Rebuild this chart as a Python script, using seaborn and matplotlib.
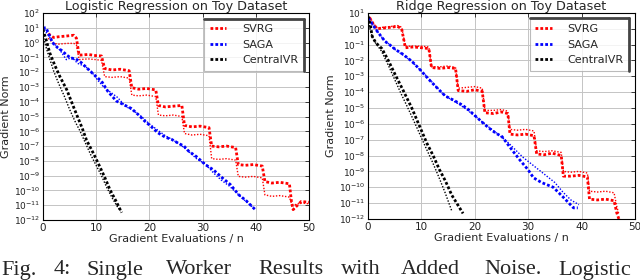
import numpy as np
import pandas as pd
import matplotlib
matplotlib.use("Agg")
import matplotlib.pyplot as plt
from matplotlib.lines import Line2D
import seaborn as sns

# ---------------- data (log10 of gradient norm) ----------------
# Logistic regression
lr_svrg_x = [1.0, 2.0, 3.0, 4.5, 5.8, 6.3, 6.8, 8.5, 10.0, 11.0, 11.6, 13.0, 14.5, 16.2, 16.7, 18.0, 19.5,
             21.2, 21.7, 23.0, 24.5, 26.1, 26.6, 28.0, 29.5, 31.2, 31.7, 33.0, 34.5, 36.2, 36.7, 38.0, 39.5,
             41.2, 41.7, 43.0, 44.5, 46.3, 46.7, 47.0, 48.5, 50.0]
lr_svrg_main = [0.6, 0.35, 0.40, 0.45, 0.50, 0.30, -0.85, -0.80, -0.88, -0.90, -1.75, -1.85, -1.80, -1.90,
                -3.05, -3.15, -3.10, -3.20, -4.25, -4.35, -4.30, -4.25, -5.60, -5.70, -5.65, -5.75, -7.00,
                -7.05, -7.00, -7.10, -8.25, -8.30, -8.25, -8.35, -9.40, -9.50, -9.45, -9.55, -10.80, -11.30,
                -10.75, -10.80]
lr_svrg_alt = [0.3, -0.05, -0.10, -0.05, -0.05, -0.15, -1.15, -1.10, -1.15, -1.20, -2.30, -2.35, -2.30, -2.40,
               -3.55, -3.60, -3.55, -3.65, -4.90, -4.95, -4.90, -5.00, -6.15, -6.25, -6.20, -6.30, -7.85,
               -7.90, -7.85, -7.95, -9.05, -9.10, -9.05, -9.15, -10.30, -10.40, -10.35, -10.45, -10.90, -11.00,
               -10.85, -10.90]
lr_saga_x = [0.0, 0.6, 1.2, 1.8, 2.8, 3.6, 4.5, 5.3, 6.2, 7.2, 8.5, 10.0, 11.0, 12.2, 13.8, 15.2, 16.6, 18.0,
             19.1, 20.4, 21.6, 23.0, 24.2, 25.4, 26.5, 27.4, 28.8, 30.5, 32.0, 33.7, 35.2, 36.8, 38.2, 39.6, 39.9]
lr_saga_main = [1.0, 1.0, 0.5, 0.0, -0.35, -0.55, -0.85, -1.05, -1.1, -1.35, -1.8, -2.3, -2.6, -3.3, -3.95,
                -4.2, -4.45, -4.9, -5.3, -5.7, -6.1, -6.4, -6.55, -6.8, -7.0, -7.35, -7.7, -8.25, -8.6, -9.15,
                -9.6, -10.3, -10.7, -11.2, -11.3]
lr_saga_alt_x = [0.3, 1.0, 1.8, 2.6, 3.2, 4.4, 5.5, 6.5, 7.9, 9.0, 10.2, 11.3, 12.5, 14.0, 15.5, 17.0, 18.5,
                 20.0, 21.5, 23.0, 24.5, 26.0, 27.5, 29.0, 30.5, 32.0, 33.5, 35.0, 36.5, 38.0, 39.3]
lr_saga_alt = [0.9, 0.5, 0.1, -0.3, -0.5, -1.15, -1.0, -1.4, -1.6, -1.9, -2.5, -2.95, -3.3, -3.7, -4.3, -4.6,
               -5.0, -5.5, -5.9, -6.3, -6.6, -6.95, -7.4, -7.9, -8.2, -8.8, -9.3, -9.7, -10.2, -10.7, -11.1]
lr_cvr_x = [0.0, 0.6, 1.3, 2.2, 3.2, 4.5, 5.7, 6.6, 7.4, 8.2, 9.5, 10.7, 11.6, 12.6, 13.7, 14.8]
lr_cvr_main = [0.9, 0.2, -0.7, -1.5, -2.3, -3.2, -4.3, -5.1, -5.8, -6.6, -7.5, -8.4, -9.1, -9.95, -10.7, -11.5]
lr_cvr_alt_x = [0.0, 0.5, 1.2, 2.0, 3.0, 4.0, 5.0, 6.0, 7.0, 8.0, 9.0, 10.0, 11.0, 12.0, 13.0, 14.0, 14.6]
lr_cvr_alt = [0.5, -0.2, -1.0, -1.9, -2.8, -3.6, -4.5, -5.3, -6.0, -6.8, -7.6, -8.3, -9.0, -9.8, -10.5, -11.1,
              -11.4]

# Ridge regression
rr_svrg_x = [0.3, 1.0, 1.7, 3.0, 4.5, 5.5, 6.3, 7.0, 8.5, 10.0, 11.4, 11.9, 13.5, 15.0, 16.4, 16.9, 18.5, 20.0,
             21.4, 21.9, 23.5, 25.0, 26.2, 26.6, 28.0, 29.5, 31.1, 31.6, 33.0, 34.5, 36.2, 36.6, 38.0, 39.5,
             41.1, 41.5, 43.0, 44.5, 46.1, 46.6, 47.0]
rr_svrg_main = [0.7, 0.3, 0.0, 0.05, 0.1, 0.15, 0.0, -1.2, -1.15, -1.2, -1.25, -2.45, -2.5, -2.45, -2.5, -3.9,
                -3.95, -3.85, -3.95, -5.3, -5.35, -5.25, -5.35, -6.65, -6.7, -6.65, -6.75, -7.9, -7.95, -7.85,
                -8.0, -9.3, -9.3, -9.25, -9.35, -10.75, -10.8, -10.75, -10.85, -11.6, -12.0]
rr_svrg_alt = [0.75, 0.35, 0.05, 0.1, 0.15, 0.2, 0.1, -1.1, -1.1, -1.1, -1.15, -2.4, -2.4, -2.35, -2.45, -3.75,
               -3.7, -3.65, -3.75, -5.15, -5.15, -5.1, -5.2, -6.35, -6.4, -6.35, -6.45, -7.7, -7.75, -7.7, -7.8,
               -9.0, -9.05, -9.0, -9.1, -10.25, -10.3, -10.25, -10.35, -11.2, -11.7]
rr_saga_x = [0.1, 0.8, 1.7, 2.5, 3.2, 4.2, 5.1, 6.5, 8.2, 9.8, 11.4, 13.0, 14.5, 16.0, 17.6, 18.8, 20.1, 21.4,
             22.6, 24.0, 25.1, 27.1, 28.5, 30.0, 31.0, 32.5, 34.7, 36.5, 38.5, 39.3]
rr_saga_main = [0.7, 0.3, -0.15, -0.5, -0.8, -1.05, -1.3, -1.6, -2.05, -2.6, -3.2, -3.75, -4.25, -4.5, -4.8,
                -5.1, -5.5, -5.9, -6.25, -6.6, -6.8, -7.7, -8.3, -8.9, -9.4, -9.7, -10.0, -10.6, -11.3, -11.3]
rr_saga_alt_x = [0.2, 1.0, 2.0, 3.0, 4.0, 5.0, 6.5, 8.0, 9.5, 11.0, 12.5, 14.0, 15.5, 17.0, 18.5, 20.0, 21.5,
                 23.0, 24.5, 26.0, 27.5, 29.0, 30.5, 32.0, 33.5, 35.0, 36.5, 38.0, 39.5]
rr_saga_alt = [0.6, 0.2, -0.3, -0.7, -1.0, -1.3, -1.65, -2.0, -2.5, -3.0, -3.55, -4.1, -4.45, -4.75, -5.1,
               -5.5, -5.9, -6.3, -6.7, -7.1, -7.6, -8.1, -8.5, -8.9, -9.3, -9.7, -10.3, -10.8, -11.1]
rr_cvr_x = [0.0, 0.4, 0.8, 1.5, 2.6, 3.8, 5.1, 6.6, 8.2, 9.6, 11.0, 12.2, 13.4, 14.5, 15.7, 16.8, 17.8]
rr_cvr_main = [0.8, 0.3, -0.5, -0.9, -1.25, -2.0, -2.9, -3.9, -5.0, -6.1, -7.2, -8.0, -8.9, -9.6, -10.5, -11.1,
               -11.65]
rr_cvr_alt_x = [0.0, 0.5, 1.2, 2.5, 3.8, 5.0, 6.2, 7.4, 8.5, 9.7, 10.9, 12.0, 13.2, 14.4, 15.7]
rr_cvr_alt = [0.6, -0.2, -0.8, -1.4, -2.3, -3.2, -4.1, -4.95, -5.75, -6.65, -7.55, -8.35, -9.3, -10.3, -11.5]

methods = ["SVRG", "SAGA", "CentralVR"]
colors = {"SVRG": "#ff0000", "SAGA": "#0000ff", "CentralVR": "#000000"}
titles = ["Logistic Regression on Toy Dataset", "Ridge Regression on Toy Dataset"]
x_ticks = [0, 10, 20, 30, 40, 50]
y_ranges = [(-12, 2), (-12, 1)]
caption_words = ["Fig.", "4:", "Single", "Worker", "Results", "with", "Added", "Noise.", "Logistic"]
caption_x = [0, 53, 86, 165, 257, 340, 400, 483, 557]

panels = [
    {"SVRG": (lr_svrg_x, lr_svrg_main, lr_svrg_x, lr_svrg_alt),
     "SAGA": (lr_saga_x, lr_saga_main, lr_saga_alt_x, lr_saga_alt),
     "CentralVR": (lr_cvr_x, lr_cvr_main, lr_cvr_alt_x, lr_cvr_alt)},
    {"SVRG": (rr_svrg_x, rr_svrg_main, rr_svrg_x, rr_svrg_alt),
     "SAGA": (rr_saga_x, rr_saga_main, rr_saga_alt_x, rr_saga_alt),
     "CentralVR": (rr_cvr_x, rr_cvr_main, rr_cvr_alt_x, rr_cvr_alt)},
]

sns.set_theme(style="white")
plt.rcParams["font.family"] = ["DejaVu Sans"]
plt.rcParams["mathtext.fontset"] = "dejavusans"

fig = plt.figure(figsize=(6.4, 2.8), dpi=100)
axes = [fig.add_axes([0.067, 0.2143, 0.416, 0.739]),
        fig.add_axes([0.575, 0.218, 0.417, 0.736])]

legends = []
for ax, pdata, title, (ylo, yhi) in zip(axes, panels, titles, y_ranges):
    for m in methods:
        xm, ym, xa, ya = pdata[m]
        df_main = pd.DataFrame({"x": xm, "y": 10.0 ** np.array(ym)})
        df_alt = pd.DataFrame({"x": xa, "y": 10.0 ** np.array(ya)})
        sns.lineplot(data=df_alt, x="x", y="y", ax=ax, color=colors[m], linewidth=1.0,
                     linestyle=(0, (1, 1.2)), estimator=None, sort=False, legend=False)
        sns.lineplot(data=df_main, x="x", y="y", ax=ax, color=colors[m], linewidth=2.0,
                     linestyle=(0, (1, 0.75)), estimator=None, sort=False, label=m)
    ax.set_yscale("log")
    ax.set_xlim(0, 50)
    ax.set_ylim(10.0 ** ylo, 10.0 ** yhi)
    ax.set_xticks(x_ticks)
    ax.set_xticklabels([str(t) for t in x_ticks], fontsize=7.5)
    yt = list(range(ylo, yhi + 1))
    ax.set_yticks([10.0 ** k for k in yt])
    ax.set_yticklabels([r"$10^{%d}$" % k for k in yt], fontsize=6.5)
    ax.yaxis.set_minor_locator(matplotlib.ticker.NullLocator())
    ax.tick_params(direction="in", top=True, right=True, length=3, width=0.6, pad=2, colors="#222222")
    ax.grid(True, color="#c4c4c4", linewidth=0.7)
    for s in ax.spines.values():
        s.set_color("black")
        s.set_linewidth(0.8)
    ax.set_title(title, fontsize=9.2, pad=2)
    ax.set_xlabel("Gradient Evaluations / n", fontsize=8, labelpad=1)
    ax.set_ylabel("Gradient Norm", fontsize=8, labelpad=2)
    leg = ax.legend(loc="upper right", fontsize=8, frameon=True, fancybox=False, handlelength=1.5,
                    labelspacing=0.5, borderpad=0.5, handletextpad=1.4, borderaxespad=0.5)
    leg.get_frame().set_edgecolor("#aaaaaa")
    leg.get_frame().set_linewidth(0.8)
    legends.append(leg)

for w, xp in zip(caption_words, caption_x):
    fig.text((xp + 1) / 640.0, 1 - 274.5 / 280.0, w, fontsize=16, family="Liberation Serif",
             ha="left", va="baseline")

fig.canvas.draw()
inv = fig.transFigure.inverted()
for leg in legends:
    bb = leg.get_frame().get_window_extent()
    (x0, y0), (x1, y1) = inv.transform([[bb.x0, bb.y0], [bb.x1, bb.y1]])
    fig.add_artist(Line2D([x0, x1], [y1, y1], transform=fig.transFigure, color="#444444", lw=2))
    fig.add_artist(Line2D([x1, x1], [y0, y1], transform=fig.transFigure, color="#444444", lw=2))

fig.savefig("out.png", dpi=100)
